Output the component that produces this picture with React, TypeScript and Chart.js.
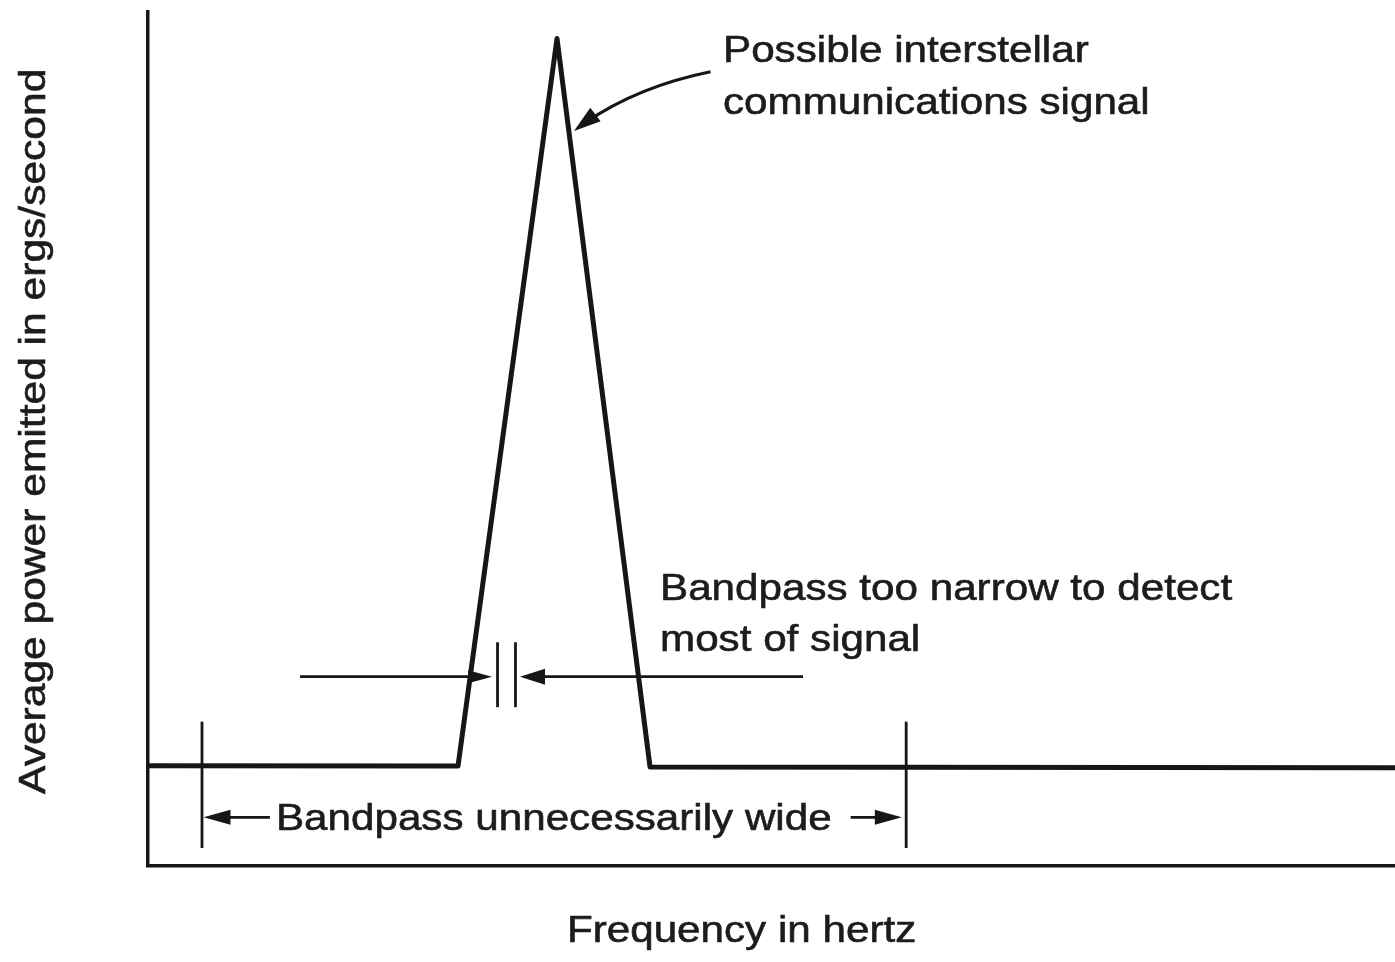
import React, { useEffect, useRef } from "react";
import { Chart, registerables } from "chart.js";

Chart.register(...registerables);

// Signal curve (frequency in arbitrary units, power in arbitrary units)
const signalFreq = [0, 24.86, 32.8, 40.26, 100];
const signalPower = [11.75, 11.7, 96.9, 11.6, 11.5];

// Wide bandpass marker
const wideBandEdges = [4.33, 60.8];
const wideBandTickY = [16.9, 2.1];
const wideBandArrowY = 5.7;
const wideBandArrowLeft = [9.78, 4.45];   // from, tip
const wideBandArrowRight = [56.35, 60.45]; // from, tip

// Narrow bandpass marker
const narrowBandEdges = [28.03, 29.47];
const narrowBandTickY = [26.2, 18.6];
const narrowBandArrowY = 22.17;
const narrowArrowLeft = [12.19, 27.59];
const narrowArrowRight = [52.53, 29.83];

// Curved pointer to signal: start, control, tip  (x, y)
const pointerStart = [45.11, 93.01];
const pointerControl = [38.65, 91.1];
const pointerTip = [34.16, 86.08];

// Labels
const signalLabel = ["Possible interstellar", "communications signal"];
const signalLabelPos = [46.11, 94.15, 88.06];
const narrowLabel = ["Bandpass too narrow to detect", "most of signal"];
const narrowLabelPos = [41.06, 31.15, 25.18];
const wideLabel = "Bandpass unnecessarily wide";
const wideLabelPos = [10.26, 4.22];
const xTitle = "Frequency in hertz";
const xTitleX = 47.6;
const yTitle = "Average power emitted in ergs/second";
const yTitleY = 50.9;

const INK = "#161616";
const TEXT = "#1c1c1c";
const FONT = '37px "Liberation Sans", Arial, Helvetica, sans-serif';
const STRETCH = 1.14;

function drawText(ctx: CanvasRenderingContext2D, text: string, x: number, y: number, align: CanvasTextAlign, rotate = 0, stretch = STRETCH) {
  ctx.save();
  ctx.translate(x, y);
  if (rotate) ctx.rotate(rotate);
  ctx.scale(stretch, 1);
  ctx.font = FONT;
  ctx.fillStyle = TEXT;
  ctx.strokeStyle = TEXT;
  ctx.lineWidth = 0.6;
  ctx.textAlign = align;
  ctx.textBaseline = "alphabetic";
  ctx.fillText(text, 0, 0);
  ctx.strokeText(text, 0, 0);
  ctx.restore();
}

function arrowHead(ctx: CanvasRenderingContext2D, tipX: number, tipY: number, dx: number, dy: number, len: number, half: number) {
  const m = Math.hypot(dx, dy) || 1;
  const ux = dx / m, uy = dy / m;
  const bx = tipX - ux * len, by = tipY - uy * len;
  ctx.beginPath();
  ctx.moveTo(tipX, tipY);
  ctx.lineTo(bx - uy * half, by + ux * half);
  ctx.lineTo(bx + uy * half, by - ux * half);
  ctx.closePath();
  ctx.fill();
}

function line(ctx: CanvasRenderingContext2D, x1: number, y1: number, x2: number, y2: number) {
  ctx.beginPath();
  ctx.moveTo(x1, y1);
  ctx.lineTo(x2, y2);
  ctx.stroke();
}

const annotationPlugin = {
  id: "annotations",
  afterDatasetsDraw(chart: any) {
    const ctx: CanvasRenderingContext2D = chart.ctx;
    const xs = chart.scales.x;
    const ys = chart.scales.y;
    const px = (v: number) => xs.getPixelForValue(v);
    const py = (v: number) => ys.getPixelForValue(v);
    const area = chart.chartArea;

    ctx.save();
    ctx.strokeStyle = INK;
    ctx.fillStyle = INK;
    ctx.lineWidth = 2.8;
    ctx.lineCap = "butt";

    // wide bandpass ticks
    for (const e of wideBandEdges) line(ctx, px(e), py(wideBandTickY[0]), px(e), py(wideBandTickY[1]));
    const wy = py(wideBandArrowY);
    line(ctx, px(wideBandArrowLeft[0]), wy, px(wideBandArrowLeft[1]) + 10, wy);
    arrowHead(ctx, px(wideBandArrowLeft[1]), wy, -1, 0, 27, 7.5);
    line(ctx, px(wideBandArrowRight[0]), wy, px(wideBandArrowRight[1]) - 10, wy);
    arrowHead(ctx, px(wideBandArrowRight[1]), wy, 1, 0, 27, 7.5);

    // narrow bandpass ticks
    for (const e of narrowBandEdges) line(ctx, px(e), py(narrowBandTickY[0]), px(e), py(narrowBandTickY[1]));
    const ny = py(narrowBandArrowY);
    line(ctx, px(narrowArrowLeft[0]), ny, px(narrowArrowLeft[1]) - 10, ny);
    arrowHead(ctx, px(narrowArrowLeft[1]), ny, 1, 0, 24, 6.5);
    line(ctx, px(narrowArrowRight[0]), ny, px(narrowArrowRight[1]) + 10, ny);
    arrowHead(ctx, px(narrowArrowRight[1]), ny, -1, 0, 25, 8);

    // curved pointer
    const sx = px(pointerStart[0]), sy = py(pointerStart[1]);
    const cx = px(pointerControl[0]), cy = py(pointerControl[1]);
    const tx = px(pointerTip[0]), ty = py(pointerTip[1]);
    ctx.lineWidth = 3.2;
    ctx.beginPath();
    ctx.moveTo(sx, sy);
    const stopT = 0.9;
    const qx = (1 - stopT) * (1 - stopT) * sx + 2 * (1 - stopT) * stopT * cx + stopT * stopT * tx;
    const qy = (1 - stopT) * (1 - stopT) * sy + 2 * (1 - stopT) * stopT * cy + stopT * stopT * ty;
    const ccx = (1 - stopT) * sx + stopT * cx;
    const ccy = (1 - stopT) * sy + stopT * cy;
    ctx.quadraticCurveTo(ccx, ccy, qx, qy);
    ctx.stroke();
    arrowHead(ctx, tx, ty, tx - cx, ty - cy, 27, 8.5);
    ctx.restore();

    // labels
    drawText(ctx, signalLabel[0], px(signalLabelPos[0]), py(signalLabelPos[1]), "left");
    drawText(ctx, signalLabel[1], px(signalLabelPos[0]), py(signalLabelPos[2]), "left");
    drawText(ctx, narrowLabel[0], px(narrowLabelPos[0]), py(narrowLabelPos[1]), "left");
    drawText(ctx, narrowLabel[1], px(narrowLabelPos[0]), py(narrowLabelPos[2]), "left");
    drawText(ctx, wideLabel, px(wideLabelPos[0]), py(wideLabelPos[1]), "left");

    // axis titles
    drawText(ctx, xTitle, px(xTitleX), area.bottom + 76, "center");
    drawText(ctx, yTitle, area.left - 103, py(yTitleY), "center", -Math.PI / 2, 1.15);
  },
};

export default function App() {
  const canvasRef = useRef<HTMLCanvasElement | null>(null);

  useEffect(() => {
    const canvas = canvasRef.current;
    if (!canvas) return;
    const chart = new Chart(canvas, {
      type: "line",
      data: {
        datasets: [
          {
            data: signalFreq.map((x, i) => ({ x, y: signalPower[i] })),
            borderColor: INK,
            borderWidth: 5,
            pointRadius: 0,
            tension: 0,
            borderJoinStyle: "round",
            fill: false,
          },
        ],
      },
      options: {
        animation: false,
        responsive: true,
        maintainAspectRatio: false,
        layout: { padding: { left: 148, top: 12, right: 0, bottom: 96 } },
        plugins: { legend: { display: false }, tooltip: { enabled: false } },
        scales: {
          x: {
            type: "linear",
            min: 0,
            max: 100,
            ticks: { display: false },
            grid: { display: false },
            border: { display: true, color: INK, width: 3.5 },
            afterFit: (s: any) => { s.height = 0; },
          },
          y: {
            type: "linear",
            min: 0,
            max: 100,
            ticks: { display: false },
            grid: { display: false },
            border: { display: true, color: INK, width: 3.5 },
            afterFit: (s: any) => { s.width = 0; },
          },
        },
      },
      plugins: [annotationPlugin],
    });
    return () => chart.destroy();
  }, []);

  return (
    <div style={{ position: "fixed", left: 0, top: 0, width: 1395, height: 962, background: "#fff" }}>
      <canvas ref={canvasRef} />
    </div>
  );
}
